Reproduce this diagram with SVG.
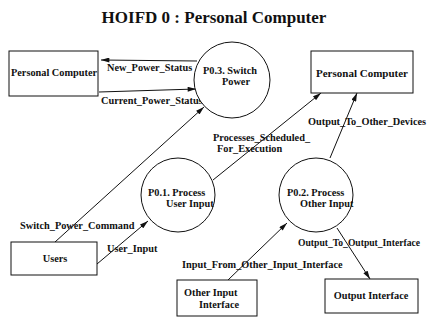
<svg xmlns="http://www.w3.org/2000/svg" width="429" height="320" viewBox="0 0 429 320">
<style>
text{font-family:"Liberation Serif","Times New Roman",serif;font-weight:bold;fill:#111;font-size:10.3px}
.title{font-size:17px}
.box{fill:#fff;stroke:#111;stroke-width:1}
.proc{fill:#fff;stroke:#111;stroke-width:1}
.flow{fill:none;stroke:#111;stroke-width:1;marker-end:url(#ah)}
.mid{text-anchor:middle}
</style>
<defs>
<marker id="ah" viewBox="0 0 10 6" refX="10" refY="3" markerWidth="9" markerHeight="5" orient="auto" markerUnits="userSpaceOnUse">
<path d="M0,0 L10,3 L0,6 z" fill="#111"/>
</marker>
</defs>
<rect width="429" height="320" fill="#fff"/>
<text class="title mid" x="214" y="23">HOIFD 0 : Personal Computer</text>

<g id="connectors">
<line class="flow" x1="197" y1="61" x2="101" y2="60"/>
<line class="flow" x1="99" y1="92" x2="196" y2="89"/>
<line class="flow" x1="55" y1="242" x2="204" y2="107"/>
<line class="flow" x1="97" y1="264" x2="148" y2="221"/>
<line class="flow" x1="213" y1="180" x2="321" y2="93"/>
<line class="flow" x1="330" y1="158" x2="357" y2="93"/>
<line class="flow" x1="228" y1="280" x2="287" y2="223"/>
<line class="flow" x1="337" y1="228" x2="370" y2="279"/>
<text x="107" y="71">New_Power_Status</text>
<text x="101" y="104">Current_Power_Status</text>
<text x="308" y="125">Output_To_Other_Devices</text>
<text x="213" y="141">Processes_Scheduled_</text>
<text x="217" y="152">For_Execution</text>
<text x="20" y="229">Switch_Power_Command</text>
<text x="107" y="252">User_Input</text>
<text x="298" y="246" textLength="122" lengthAdjust="spacingAndGlyphs">Output_To_Output_Interface</text>
<text x="182" y="268">Input_From_Other_Input_Interface</text>
</g>

<g id="pc-left">
<rect class="box" x="9" y="51" width="89" height="45"/>
<text class="mid" x="54" y="76">Personal Computer</text>
</g>
<g id="p03">
<circle class="proc" cx="232" cy="80" r="38"/>
<text x="203" y="74">P0.3. Switch</text>
<text x="222" y="85">Power</text>
</g>
<g id="pc-right">
<rect class="box" x="311" y="51" width="102" height="42"/>
<text class="mid" x="362" y="77" style="font-size:11px">Personal Computer</text>
</g>
<g id="p01">
<circle class="proc" cx="178" cy="195" r="37"/>
<text x="148" y="196">P0.1. Process</text>
<text x="166" y="207">User Input</text>
</g>
<g id="p02">
<circle class="proc" cx="316" cy="195" r="37"/>
<text x="287" y="196">P0.2. Process</text>
<text x="300" y="207">Other Input</text>
</g>
<g id="users">
<rect class="box" x="11" y="242" width="86" height="33"/>
<text class="mid" x="55" y="262">Users</text>
</g>
<g id="other-input">
<rect class="box" x="177" y="280" width="80" height="36"/>
<text x="184" y="296">Other Input</text>
<text x="199" y="308">Interface</text>
</g>
<g id="output-interface">
<rect class="box" x="325" y="279" width="93" height="34"/>
<text class="mid" x="371" y="299">Output Interface</text>
</g>
</svg>
